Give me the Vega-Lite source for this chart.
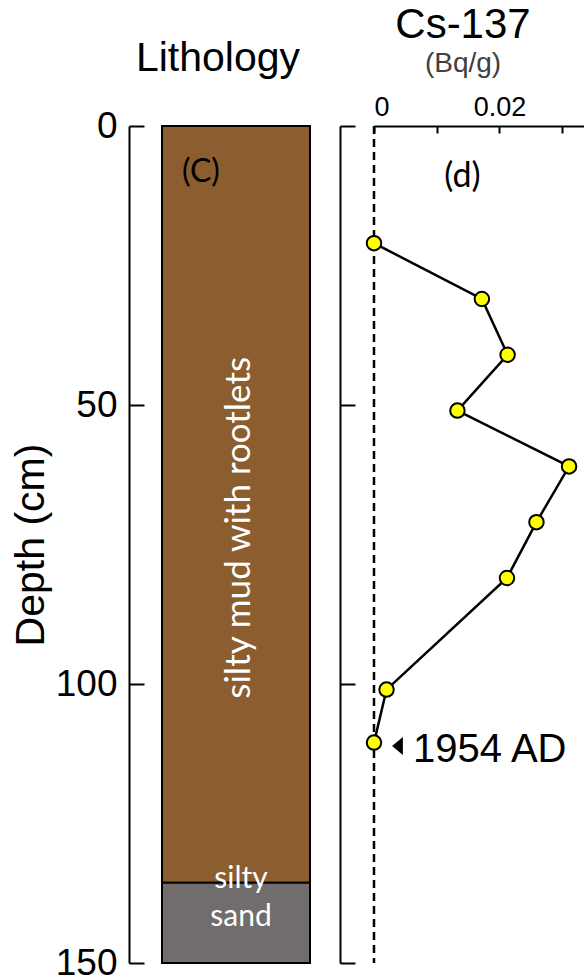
{
  "$schema": "https://vega.github.io/schema/vega-lite/v6.json",
  "background": "white",
  "padding": {"left": 10, "top": 4, "right": 0, "bottom": 0},
  "spacing": 10,
  "config": {
    "view": {"stroke": null},
    "axis": {
      "domainColor": "black", "tickColor": "black", "labelColor": "black", "titleColor": "black",
      "grid": false, "domainWidth": 2, "tickWidth": 2,
      "labelFont": "Liberation Sans", "titleFont": "Liberation Sans", "titleFontWeight": "normal"
    },
    "title": {"font": "Liberation Sans", "fontWeight": "normal", "color": "black"}
  },
  "hconcat": [
    {
      "width": 200,
      "height": 837,
      "title": {"text": "Lithology", "fontSize": 41, "offset": 27, "dx": -11},
      "layer": [
        {
          "data": {"values": [
            {"unit": "silty mud with rootlets", "top": 0, "bottom": 135.6},
            {"unit": "silty sand", "top": 135.6, "bottom": 150}
          ]},
          "mark": {"type": "rect", "stroke": "black", "strokeWidth": 2},
          "encoding": {
            "x": {"datum": 1.65, "type": "quantitative", "scale": {"domain": [0, 10], "nice": false}, "axis": null},
            "x2": {"datum": 9.05},
            "y": {
              "field": "top", "type": "quantitative",
              "scale": {"domain": [0, 150], "reverse": true, "nice": false},
              "axis": {
                "orient": "left", "values": [0, 50, 100, 150], "tickSize": -15,
                "labelFontSize": 37, "labelPadding": 27, "title": "Depth (cm)",
                "titleFontSize": 41, "titlePadding": 3
              }
            },
            "y2": {"field": "bottom"},
            "fill": {
              "field": "unit", "type": "nominal",
              "scale": {"domain": ["silty mud with rootlets", "silty sand"], "range": ["#8B5D2F", "#716D6C"]},
              "legend": null
            }
          }
        },
        {
          "data": {"values": [{"label": "silty mud with rootlets", "depth": 72}]},
          "mark": {"type": "text", "angle": 270, "font": "Lato", "fontSize": 35, "color": "white", "align": "center", "baseline": "middle"},
          "encoding": {
            "x": {"datum": 5.5, "type": "quantitative"},
            "y": {"field": "depth", "type": "quantitative"},
            "text": {"field": "label"}
          }
        },
        {
          "data": {"values": [{"label": "silty\nsand", "depth": 136.5}]},
          "mark": {"type": "text", "lineBreak": "\n", "lineHeight": 38, "font": "Lato", "fontSize": 30, "color": "white", "align": "center", "baseline": "alphabetic"},
          "encoding": {
            "x": {"datum": 5.6, "type": "quantitative"},
            "y": {"field": "depth", "type": "quantitative"},
            "text": {"field": "label"}
          }
        },
        {
          "data": {"values": [{"label": "(C)", "depth": 8.2}]},
          "mark": {"type": "text", "font": "Lato", "fontSize": 32, "color": "black", "align": "center", "baseline": "middle"},
          "encoding": {
            "x": {"datum": 3.6, "type": "quantitative"},
            "y": {"field": "depth", "type": "quantitative"},
            "text": {"field": "label"}
          }
        }
      ]
    },
    {
      "width": 212,
      "height": 837,
      "title": {
        "text": "Cs-137", "subtitle": "(Bq/g)", "fontSize": 42,
        "subtitleFontSize": 28, "subtitleFont": "Liberation Sans", "subtitleColor": "#404040",
        "subtitlePadding": 3, "offset": 14, "dx": -17
      },
      "data": {"values": [
        {"depth": 21, "cs": 0},
        {"depth": 31, "cs": 0.0172},
        {"depth": 41, "cs": 0.0213},
        {"depth": 51, "cs": 0.0133},
        {"depth": 61, "cs": 0.0311},
        {"depth": 71, "cs": 0.0259},
        {"depth": 81, "cs": 0.0212},
        {"depth": 101, "cs": 0.002},
        {"depth": 110.5, "cs": 0}
      ]},
      "encoding": {
        "y": {
          "field": "depth", "type": "quantitative",
          "scale": {"domain": [0, 150], "reverse": true, "nice": false},
          "axis": {"orient": "left", "offset": 34, "values": [0, 50, 100, 150], "tickSize": -15, "labels": false, "title": null}
        }
      },
      "layer": [
        {
          "data": {"values": [{}]},
          "mark": {"type": "rule", "strokeDash": [8, 5], "strokeWidth": 2.5, "color": "black"},
          "encoding": {
            "x": {"datum": 0, "type": "quantitative"},
            "y": null
          }
        },
        {
          "mark": {"type": "line", "color": "black", "strokeWidth": 2.5},
          "encoding": {
            "x": {
              "field": "cs", "type": "quantitative",
              "scale": {"domain": [0, 0.0338], "nice": false},
              "axis": {
                "orient": "top", "values": [0, 0.01, 0.02, 0.03], "tickSize": -7,
                "labelFontSize": 27, "labelPadding": 12, "title": null,
                "labelExpr": "datum.value == 0 ? '0' : (abs(datum.value - 0.02) < 1e-9 ? '0.02' : '')"
              }
            },
            "order": {"field": "depth", "type": "quantitative"}
          }
        },
        {
          "mark": {"type": "point", "shape": "circle", "filled": true, "fill": "#FFFF00", "stroke": "black", "strokeWidth": 2, "size": 210, "opacity": 1},
          "encoding": {"x": {"field": "cs", "type": "quantitative"}}
        },
        {
          "data": {"values": [{"depth": 110.5, "cs": 0, "label": "1954 AD"}]},
          "mark": {"type": "point", "shape": "M 0.6 -1 L -0.6 0 L 0.6 1 Z", "filled": true, "fill": "black", "strokeWidth": 0, "size": 324, "opacity": 1, "xOffset": 23.5, "yOffset": 3.5},
          "encoding": {"x": {"field": "cs", "type": "quantitative"}}
        },
        {
          "data": {"values": [{"depth": 110.5, "cs": 0, "label": "1954 AD"}]},
          "mark": {"type": "text", "font": "Liberation Sans", "fontSize": 40, "align": "left", "baseline": "alphabetic", "dx": 39, "dy": 19, "color": "black"},
          "encoding": {"x": {"field": "cs", "type": "quantitative"}, "text": {"field": "label"}}
        },
        {
          "data": {"values": [{"depth": 9.1, "cs": 0.0141, "label": "(d)"}]},
          "mark": {"type": "text", "font": "Lato", "fontSize": 34, "align": "center", "baseline": "middle", "color": "black"},
          "encoding": {"x": {"field": "cs", "type": "quantitative"}, "text": {"field": "label"}}
        }
      ]
    }
  ]
}
